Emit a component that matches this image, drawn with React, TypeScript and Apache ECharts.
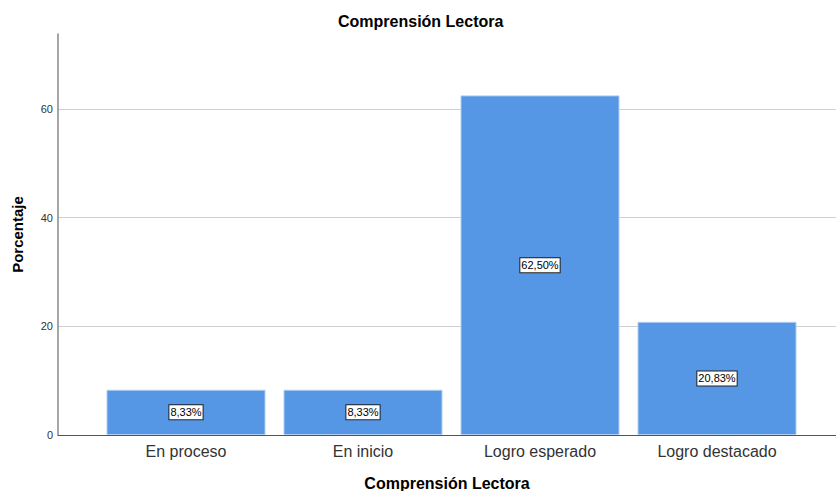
import React, { useEffect, useRef } from "react";
import * as echarts from "echarts";

const categories = ["En proceso", "En inicio", "Logro esperado", "Logro destacado"];
const percentages = [8.33, 8.33, 62.5, 20.83];
const yTicks = [0, 20, 40, 60];
const chartTitle = "Comprensión Lectora";
const xAxisTitle = "Comprensión Lectora";
const yAxisTitle = "Porcentaje";

export default function App() {
  const ref = useRef<HTMLDivElement>(null);
  useEffect(() => {
    document.body.style.margin = "0";
    const chart = echarts.init(ref.current!, null, { renderer: "svg" });
    const font = "Liberation Sans, Arial, sans-serif";
    chart.setOption({
      animation: false,
      backgroundColor: "#ffffff",
      title: {
        text: chartTitle,
        left: 338,
        top: 13,
        padding: 0,
        textStyle: { fontFamily: font, fontSize: 16, fontWeight: "bold", color: "#000" },
      },
      grid: [
        { left: 58, right: 0, top: 34, bottom: 56, outerBoundsMode: "none", containLabel: false },
        { left: 97.5, right: 30.5, top: 34, bottom: 56, outerBoundsMode: "none", containLabel: false },
      ],
      xAxis: [
        {
          gridIndex: 0,
          type: "value",
          min: 0,
          max: 1,
          axisLabel: { show: false },
          axisTick: { show: false },
          splitLine: { show: false },
          axisLine: { show: true, lineStyle: { color: "#555", width: 1.2 } },
          name: xAxisTitle,
          nameLocation: "middle",
          nameGap: 40,
          nameTextStyle: { fontFamily: font, fontSize: 16, fontWeight: "bold", color: "#000" },
        },
        {
          gridIndex: 1,
          type: "category",
          data: categories,
          boundaryGap: true,
          axisLine: { show: false },
          axisTick: { show: false },
          axisLabel: { fontFamily: font, fontSize: 16, color: "#333", margin: 8 },
        },
      ],
      yAxis: [
        {
          gridIndex: 0,
          type: "value",
          min: yTicks[0],
          max: 73.8,
          interval: 20,
          axisLine: { show: true, lineStyle: { color: "#888", width: 1.5 } },
          axisTick: { show: false },
          axisLabel: {
            fontFamily: font,
            fontSize: 11,
            color: "#333",
            margin: 5,
            showMaxLabel: false,
            formatter: (v: number) => (yTicks.includes(v) ? String(v) : ""),
          },
          splitLine: { show: true, showMaxLine: false, lineStyle: { color: "#d0d0d0", width: 1.2 } },
          name: yAxisTitle,
          nameLocation: "middle",
          nameGap: 33,
          nameTextStyle: { fontFamily: font, fontSize: 15, fontWeight: "bold", color: "#000" },
        },
        {
          gridIndex: 1,
          type: "value",
          min: 0,
          max: 73.8,
          show: false,
        },
      ],
      series: [
        {
          type: "bar",
          xAxisIndex: 1,
          yAxisIndex: 1,
          data: percentages,
          barWidth: 159,
          itemStyle: { color: "#5596e5", borderColor: "#b0cdf2", borderWidth: 1 },
          label: {
            show: true,
            position: "inside",
            formatter: (p: any) => p.value.toFixed(2).replace(".", ",") + "%",
            fontFamily: font,
            fontSize: 11,
            color: "#000",
            backgroundColor: "#fff",
            borderColor: "#222",
            borderWidth: 1,
            padding: [2, 1, 1, 1],
          },
        },
      ],
    });
    return () => chart.dispose();
  }, []);
  return <div ref={ref} style={{ width: 836, height: 491 }} />;
}
